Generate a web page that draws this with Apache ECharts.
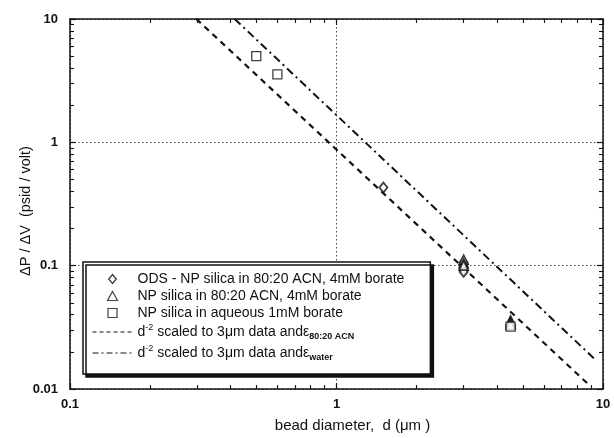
<!DOCTYPE html>
<html>
<head>
<meta charset="utf-8">
<script src="https://cdn.jsdelivr.net/npm/echarts@6/dist/echarts.min.js"></script>
<style>
  html, body { margin: 0; padding: 0; background: #fff; }
  #chart { width: 614px; height: 438px; }
</style>
</head>
<body>
<div id="chart"></div>
<script>
// Pressure drop per volt vs. bead diameter (log-log)
const odsAcn = [[1.5, 0.43], [3, 0.106], [3, 0.102], [3, 0.098], [3, 0.095], [3, 0.092], [3, 0.089]];
const npAcn = [[3, 0.112], [3, 0.104], [3, 0.1], [4.5, 0.036], [4.5, 0.035], [4.5, 0.034], [4.5, 0.033]];
const npAqueous = [[0.5, 5.0], [0.6, 3.55], [4.5, 0.032]];
const scaledAcn = [[0.298, 10], [8.86, 0.0108]];
const scaledWater = [[0.415, 10], [9.25, 0.0177]];

const xMinorTicks = [0.2, 0.3, 0.4, 0.5, 0.6, 0.7, 0.8, 0.9, 2, 3, 4, 5, 6, 7, 8, 9];
const yMinorTicks = [0.02, 0.03, 0.04, 0.05, 0.06, 0.07, 0.08, 0.09,
                     0.2, 0.3, 0.4, 0.5, 0.6, 0.7, 0.8, 0.9, 2, 3, 4, 5, 6, 7, 8, 9];

const names = {
  ods: 'ODS - NP silica in 80:20 ACN, 4mM borate',
  np: 'NP silica in 80:20 ACN, 4mM borate',
  aq: 'NP silica in aqueous 1mM borate',
  acn: 'd-2 scaled to 3μm data and ε 80:20 ACN',
  water: 'd-2 scaled to 3μm data and ε water'
};
const legendRich = {
  [names.acn]: '{n|d}{sup|-2}{n| scaled to 3μm data and}{n|ε}{sub|80:20 ACN}',
  [names.water]: '{n|d}{sup|-2}{n| scaled to 3μm data and}{n|ε}{sub|water}'
};

// Outline shapes for the legend keys (kept square-ish inside the wide key box)
const ICON_DIAMOND = 'path://M5,0L10,6L5,12L0,6Z';
const ICON_TRIANGLE = 'path://M5,0L10,9L0,9Z';
const ICON_SQUARE = 'path://M0,0L10,0L10,10L0,10Z';

const FONT = 'Liberation Sans, Arial, Helvetica, sans-serif';
const INK = '#111';

function axisPair(dim, pos, minor, withLabels, extra) {
  const base = {
    type: 'log', logBase: 10, position: pos,
    min: dim === 'x' ? 0.1 : 0.01, max: 10,
    axisLine: { show: true, onZero: false, lineStyle: { color: INK, width: 1.5 } },
    axisTick: { show: true, inside: true, length: 6, lineStyle: { color: INK, width: 1.2 } },
    axisLabel: withLabels ? { show: true, color: INK, fontFamily: FONT, fontSize: 13, fontWeight: 'bold',
      margin: dim === 'x' ? 9 : 12 } : { show: false },
    splitLine: { show: false },
    minorTick: { show: false }
  };
  const minorAxis = {
    type: 'log', logBase: 10, position: pos,
    min: dim === 'x' ? 0.1 : 0.01, max: 10,
    axisLine: { show: false },
    axisTick: { show: true, inside: true, length: 4, customValues: minor, lineStyle: { color: INK, width: 1.1 } },
    axisLabel: { show: false },
    splitLine: { show: false }
  };
  return [Object.assign(base, extra || {}), minorAxis];
}

const gridLine = { show: true, lineStyle: { color: '#444', width: 1, type: [1.5, 2.5] } };

const xAxes = [
  ...axisPair('x', 'bottom', xMinorTicks, true, {
    name: 'bead diameter,  d (μm )', nameLocation: 'middle', nameGap: 29, nameMoveOverlap: false,
    nameTextStyle: { color: INK, fontFamily: FONT, fontSize: 15, padding: [0, 0, 0, 32] },
    splitLine: gridLine
  }),
  ...axisPair('x', 'top', xMinorTicks, false)
];
const yAxes = [
  ...axisPair('y', 'left', yMinorTicks, true, {
    name: 'ΔP / ΔV  (psid / volt)', nameLocation: 'middle', nameGap: 37, nameMoveOverlap: false,
    nameTextStyle: { color: INK, fontFamily: FONT, fontSize: 14.5, padding: [0, 14, 0, 0] },
    splitLine: gridLine
  }),
  ...axisPair('y', 'right', yMinorTicks, false)
];

const hiddenDot = { color: 'rgba(0,0,0,0)', borderWidth: 0 };

const chart = echarts.init(document.getElementById('chart'), null, { renderer: 'canvas' });
chart.setOption({
  animation: false,
  backgroundColor: '#fff',
  grid: { left: 70, right: 11, top: 19, bottom: 47, containLabel: false },
  xAxis: xAxes,
  yAxis: yAxes,
  legend: {
    orient: 'vertical', left: 83, top: 262,
    padding: [10, 26, 12, 9],
    itemWidth: 40, itemHeight: 9, itemGap: 3,
    symbolKeepAspect: true,
    backgroundColor: '#fff', borderColor: INK, borderWidth: 1.5,
    shadowColor: '#111', shadowBlur: 0, shadowOffsetX: 3, shadowOffsetY: 3,
    selectedMode: false,
    textStyle: {
      color: INK, fontFamily: FONT, fontSize: 14,
      rich: {
        n: { fontFamily: FONT, fontSize: 14, color: INK, lineHeight: 18, verticalAlign: 'middle' },
        sup: { fontFamily: FONT, fontSize: 9, color: INK, verticalAlign: 'top', lineHeight: 18 },
        sub: { fontFamily: FONT, fontSize: 9, fontWeight: 'bold', color: INK, verticalAlign: 'bottom', lineHeight: 14, padding: [6, 0, 0, 0] }
      }
    },
    formatter: function (name) { return legendRich[name] || name; },
    data: [
      { name: names.ods, icon: ICON_DIAMOND, itemStyle: { color: '#fff', borderColor: INK, borderWidth: 1.4 } },
      { name: names.np, icon: ICON_TRIANGLE, itemStyle: { color: '#fff', borderColor: INK, borderWidth: 1.2 } },
      { name: names.aq, icon: ICON_SQUARE, itemStyle: { color: '#fff', borderColor: INK, borderWidth: 1.2 } },
      { name: names.acn, itemStyle: hiddenDot, lineStyle: { color: INK, width: 1, type: [4, 3] } },
      { name: names.water, itemStyle: hiddenDot, lineStyle: { color: INK, width: 1, type: [6, 3, 2, 3] } }
    ]
  },
  series: [
    {
      name: names.acn, type: 'line', data: scaledAcn, xAxisIndex: 0, yAxisIndex: 0,
      symbol: 'none', silent: true, itemStyle: { color: INK },
      lineStyle: { color: INK, width: 2.2, type: [6, 5] }, z: 2
    },
    {
      name: names.water, type: 'line', data: scaledWater, xAxisIndex: 0, yAxisIndex: 0,
      symbol: 'none', silent: true, itemStyle: { color: INK },
      lineStyle: { color: INK, width: 2, type: [8, 4, 2, 4] }, z: 2
    },
    {
      name: names.ods, type: 'scatter', data: odsAcn, xAxisIndex: 0, yAxisIndex: 0,
      symbol: 'diamond', symbolSize: [8, 10],
      itemStyle: { color: '#fff', borderColor: INK, borderWidth: 1.8 }, z: 3
    },
    {
      name: names.np, type: 'scatter', data: npAcn, xAxisIndex: 0, yAxisIndex: 0,
      symbol: 'triangle', symbolSize: 9,
      itemStyle: { color: '#fff', borderColor: INK, borderWidth: 1.6 }, z: 3
    },
    {
      name: names.aq, type: 'scatter', data: npAqueous, xAxisIndex: 0, yAxisIndex: 0,
      symbol: 'rect', symbolSize: 9,
      itemStyle: { color: '#fff', borderColor: INK, borderWidth: 1.3 }, z: 3
    }
  ]
});
</script>
</body>
</html>
